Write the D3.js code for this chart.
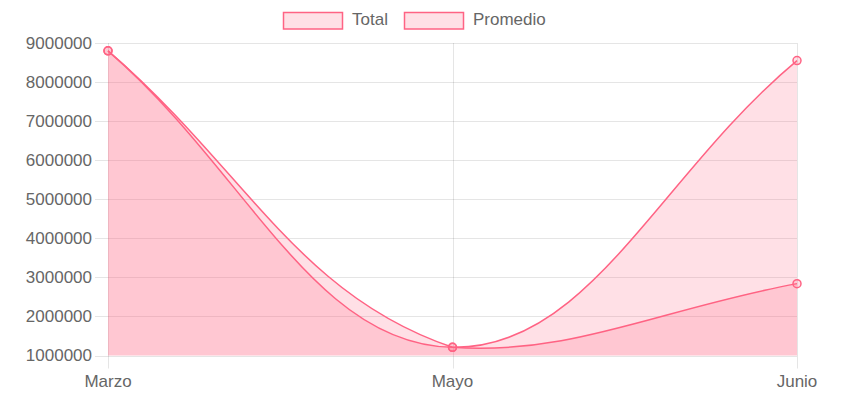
<!DOCTYPE html>
<html>
<head>
<meta charset="utf-8">
<script src="https://cdn.jsdelivr.net/npm/d3@7"></script>
<style>
  body { margin: 0; background: #fff; }
  text { font-family: 'Liberation Sans', Arial, sans-serif; fill: #666; }
</style>
</head>
<body>
<div id="chart"></div>
<script>
var months = ['Marzo', 'Mayo', 'Junio'];
var total = [8800000, 1210000, 8550000];
var promedio = [8800000, 1210000, 2840000];
var seriesNames = ['Total', 'Promedio'];
var yTicks = [1000000, 2000000, 3000000, 4000000, 5000000, 6000000, 7000000, 8000000, 9000000];

var W = 845, H = 393;
var margin = { top: 43, right: 48, bottom: 37.5, left: 108 };
var width = W - margin.left - margin.right;
var height = H - margin.top - margin.bottom;

var stroke = 'rgb(255, 99, 132)';
var fill = 'rgba(255, 99, 132, 0.2)';
var grid = 'rgba(0, 0, 0, 0.1)';

var svg = d3.select('#chart').append('svg')
  .attr('width', W)
  .attr('height', H);

var g = svg.append('g')
  .attr('transform', `translate(${margin.left}, ${margin.top})`);

var x = d3.scalePoint().domain(months).range([0, width]);
var y = d3.scaleLinear().domain([1000000, 9000000]).range([height, 0]);

// horizontal grid + tick marks
g.selectAll('.hgrid')
  .data(yTicks)
  .enter().append('line')
    .attr('x1', -13).attr('x2', width)
    .attr('y1', d => Math.round(y(d)) + 0.5).attr('y2', d => Math.round(y(d)) + 0.5)
    .attr('stroke', grid);

g.selectAll('.ylab')
  .data(yTicks)
  .enter().append('text')
    .attr('x', -16)
    .attr('y', d => y(d))
    .attr('dy', '0.35em')
    .attr('text-anchor', 'end')
    .style('font-size', '17px')
    .text(d => d);

// vertical grid + tick marks
g.selectAll('.vgrid')
  .data(months)
  .enter().append('line')
    .attr('x1', d => Math.round(x(d)) + 0.5).attr('x2', d => Math.round(x(d)) + 0.5)
    .attr('y1', 0).attr('y2', height + 13)
    .attr('stroke', grid);

g.selectAll('.xlab')
  .data(months)
  .enter().append('text')
    .attr('x', d => x(d))
    .attr('y', height + 31)
    .attr('text-anchor', 'middle')
    .style('font-size', '17px')
    .text(d => d);

// Chart.js style bezier (tension 0.4, control points capped to the area)
function splinePath(values) {
  var pts = values.map((v, i) => ({ x: x(months[i]), y: y(v) }));
  var cap = p => ({ x: Math.max(0, Math.min(width, p.x)), y: Math.max(0, Math.min(height, p.y)) });
  var t = 0.4;
  pts.forEach((cur, i) => {
    var prev = pts[i - 1] || cur, next = pts[i + 1] || cur;
    var d01 = Math.hypot(cur.x - prev.x, cur.y - prev.y);
    var d12 = Math.hypot(next.x - cur.x, next.y - cur.y);
    var s01 = d01 / (d01 + d12) || 0, s12 = d12 / (d01 + d12) || 0;
    cur.cp1 = cap({ x: cur.x - t * s01 * (next.x - prev.x), y: cur.y - t * s01 * (next.y - prev.y) });
    cur.cp2 = cap({ x: cur.x + t * s12 * (next.x - prev.x), y: cur.y + t * s12 * (next.y - prev.y) });
  });
  var p = d3.path();
  p.moveTo(pts[0].x, pts[0].y);
  for (var i = 1; i < pts.length; i++) {
    p.bezierCurveTo(pts[i - 1].cp2.x, pts[i - 1].cp2.y, pts[i].cp1.x, pts[i].cp1.y, pts[i].x, pts[i].y);
  }
  return { line: p.toString(), pts: pts };
}

[promedio, total].forEach(values => {
  var s = splinePath(values);
  var last = s.pts[s.pts.length - 1];
  g.append('path')
    .attr('d', s.line + `L${last.x},${height}L${s.pts[0].x},${height}Z`)
    .attr('fill', fill);
  g.append('path')
    .attr('d', s.line)
    .attr('fill', 'none')
    .attr('stroke', stroke)
    .attr('stroke-width', 1.5);
  g.selectAll(null)
    .data(s.pts)
    .enter().append('circle')
      .attr('cx', d => d.x)
      .attr('cy', d => d.y)
      .attr('r', 4)
      .attr('fill', fill)
      .attr('stroke', stroke)
      .attr('stroke-width', 1.5);
});

// legend
var legendX = [283, 404];
var legend = svg.selectAll('.legend')
  .data(seriesNames)
  .enter().append('g')
    .attr('transform', (d, i) => `translate(${legendX[i]}, 12)`);

legend.append('rect')
  .attr('x', 0.5).attr('y', 0.5)
  .attr('width', 59).attr('height', 16.5)
  .attr('fill', fill)
  .attr('stroke', stroke)
  .attr('stroke-width', 1.5);

legend.append('text')
  .attr('x', 69)
  .attr('y', 13)
  .style('font-size', '17px')
  .text(d => d);
</script>
</body>
</html>
